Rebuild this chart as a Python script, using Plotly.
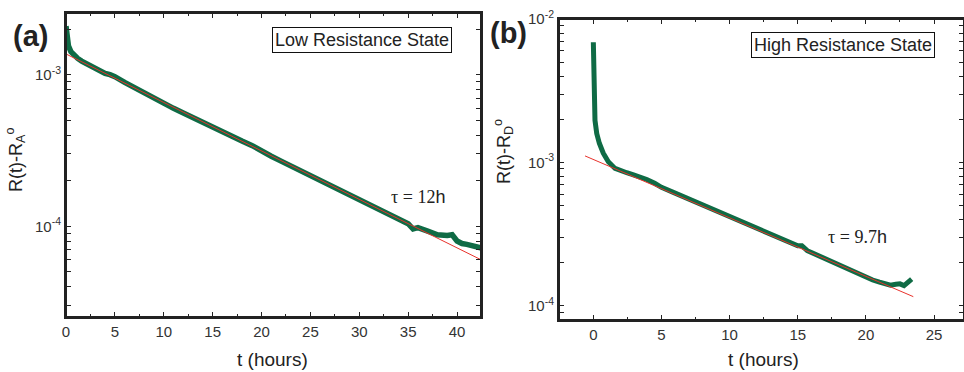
import plotly.graph_objects as go

# ---- Panel (a): Low Resistance State ----
t_a = [0, 0.1, 0.25, 0.5, 0.8, 1.2, 1.6, 2, 2.5, 3, 3.5, 4, 4.5, 5, 6, 7, 8, 9, 10,
       11, 12, 13, 14, 15, 16, 17, 18, 19, 20, 21, 22, 23, 24, 25, 26, 27, 28, 29,
       30, 31, 32, 33, 34, 35, 35.5, 36, 37, 38, 39, 39.5, 40, 40.5, 41, 42, 42.5]
r_a = [2.09e-3, 1.75e-3, 1.55e-3, 1.42e-3, 1.34e-3, 1.28e-3, 1.23e-3, 1.19e-3, 1.13e-3,
       1.09e-3, 1.05e-3, 1.02e-3, 1.0e-3, 9.7e-4, 8.9e-4, 8.2e-4, 7.6e-4, 7.05e-4, 6.45e-4,
       6.0e-4, 5.6e-4, 5.2e-4, 4.85e-4, 4.52e-4, 4.2e-4, 3.92e-4, 3.65e-4, 3.42e-4, 3.12e-4,
       2.9e-4, 2.69e-4, 2.5e-4, 2.33e-4, 2.17e-4, 2.03e-4, 1.89e-4, 1.73e-4, 1.61e-4,
       1.5e-4, 1.4e-4, 1.32e-4, 1.22e-4, 1.13e-4, 1.04e-4, 9.6e-5, 9.8e-5, 9.3e-5, 8.8e-5,
       8.7e-5, 8.8e-5, 8.0e-5, 7.7e-5, 7.6e-5, 7.3e-5, 7.2e-5]
fit_a_t = [0, 42.5]
fit_a_r = [1.37e-3, 6.0e-5]

# ---- Panel (b): High Resistance State ----
t_b = [0, 0.02, 0.04, 0.12, 0.25, 0.44, 0.73, 1.1, 1.59, 2.0, 2.45, 3.0, 3.5, 3.92, 4.5,
       5, 6, 7, 8, 9, 10, 11, 12, 13, 14, 15, 15.3, 15.7, 16, 17, 18, 19, 20, 20.5, 21,
       21.5, 21.8, 22.2, 22.5, 22.8, 23.1, 23.36]
r_b = [6.9e-3, 4.5e-3, 2.9e-3, 1.97e-3, 1.59e-3, 1.36e-3, 1.16e-3, 1.01e-3, 9.08e-4,
       8.7e-4, 8.47e-4, 8.15e-4, 7.9e-4, 7.6e-4, 7.15e-4, 6.7e-4, 6.1e-4, 5.55e-4, 5.05e-4,
       4.57e-4, 4.15e-4, 3.78e-4, 3.45e-4, 3.13e-4, 2.85e-4, 2.62e-4, 2.62e-4, 2.42e-4,
       2.35e-4, 2.13e-4, 1.92e-4, 1.72e-4, 1.57e-4, 1.51e-4, 1.46e-4, 1.42e-4, 1.39e-4,
       1.41e-4, 1.42e-4, 1.38e-4, 1.46e-4, 1.53e-4]
fit_b_t = [-0.61, 23.48]
fit_b_r = [1.11e-3, 1.156e-4]

x_ticks_a = [0, 5, 10, 15, 20, 25, 30, 35, 40]
x_ticks_b = [0, 5, 10, 15, 20, 25]
y_decades_a = [-5, -4, -3]
y_labeled_a = [-4, -3]
y_decades_b = [-5, -4, -3, -2]
y_labeled_b = [-4, -3, -2]

W, H = 964, 372
def px(x):
    return x / W
def py(y):
    return 1 - y / H

GREEN = "#0f6b45"
RED = "#e8322c"
INK = "#222222"
FONT = "Liberation Sans, Arial, sans-serif"

fig = go.Figure()
fig.add_trace(go.Scatter(x=t_a, y=r_a, mode="lines", line=dict(color=GREEN, width=5.5),
                         xaxis="x", yaxis="y", showlegend=False))
fig.add_trace(go.Scatter(x=fit_a_t, y=fit_a_r, mode="lines", line=dict(color=RED, width=1),
                         xaxis="x", yaxis="y", showlegend=False))
fig.add_trace(go.Scatter(x=t_b, y=r_b, mode="lines", line=dict(color=GREEN, width=5),
                         xaxis="x2", yaxis="y2", showlegend=False))
fig.add_trace(go.Scatter(x=fit_b_t, y=fit_b_r, mode="lines", line=dict(color=RED, width=1),
                         xaxis="x2", yaxis="y2", showlegend=False))

def log_ticks(decades, labeled):
    vals, text = [], []
    for d in decades:
        for m in range(1, 10):
            vals.append(m * 10.0 ** d)
            text.append("10<sup>%d</sup>" % d if (m == 1 and d in labeled) else " ")
    return vals, text

yv_a, yt_a = log_ticks(y_decades_a, y_labeled_a)
yv_b, yt_b = log_ticks(y_decades_b, y_labeled_b)

common = dict(showgrid=False, zeroline=False, showline=True, linecolor=INK, linewidth=2,
              mirror="ticks", ticks="inside", ticklen=5, tickwidth=1.3, tickcolor=INK,
              automargin=False,
              tickfont=dict(family=FONT, size=15, color="#333"))
xminor = dict(dtick=2.5, tick0=0, ticks="inside", ticklen=3, tickwidth=1.3, tickcolor=INK)

fig.update_layout(
    width=W, height=H, margin=dict(l=0, r=0, t=0, b=0, autoexpand=False),
    paper_bgcolor="white", plot_bgcolor="white",
    xaxis=dict(domain=[px(66), px(481)], range=[0, 42.45], anchor="y",
               tickmode="array", tickvals=x_ticks_a, minor=xminor, **common),
    yaxis=dict(domain=[py(317), py(13)], type="log", range=[-4.598, -2.593], anchor="x",
               tickmode="array", tickvals=yv_a, ticktext=yt_a, **common),
    xaxis2=dict(domain=[px(559), 1.0], range=[-2.52, 27.2], anchor="y2",
                tickmode="array", tickvals=x_ticks_b, minor=xminor, **common),
    yaxis2=dict(domain=[py(320), py(19)], type="log", range=[-4.1, -1.999], anchor="x2",
                tickmode="array", tickvals=yv_b, ticktext=yt_b, **common),
)

# frames
for xr, yr in (("x domain", "y domain"), ("x2 domain", "y2 domain")):
    fig.add_shape(type="rect", xref=xr, yref=yr, x0=0, x1=1, y0=0, y1=1,
                  line=dict(color=INK, width=2), fillcolor="rgba(0,0,0,0)", layer="above")

ann = []
def add(text, x, y, size, angle=0, family=FONT, border=False, **kw):
    d = dict(text=text, x=px(x), y=py(y), xref="paper", yref="paper", showarrow=False,
             xanchor="center", yanchor="middle", textangle=angle,
             font=dict(family=family, size=size, color=INK))
    if border:
        d.update(bordercolor="#111", borderwidth=1, borderpad=2, bgcolor="white")
    d.update(kw)
    ann.append(d)

add("<b>(a)</b>", 31, 36, 29)
add("<b>(b)</b>", 508, 33, 29)
add("Low Resistance State", 362, 40, 18, border=True)
add("High Resistance State", 843, 45, 18, border=True)
add("τ = 12<span style='font-family:Liberation Sans'>h</span>", 418, 197, 18,
    family="Liberation Serif, Times New Roman, serif")
add("τ = 9.7<span style='font-family:Liberation Sans'>h</span>", 857, 237, 18,
    family="Liberation Serif, Times New Roman, serif")
add("t (hours)", 272, 359, 19)
add("t (hours)", 763, 359, 19)
add("R(t)-R<sub>A</sub><sup>o</sup>", 15, 160, 18, angle=-90)
add("R(t)-R<sub>D</sub><sup>o</sup>", 503, 152, 18, angle=-90)

fig.update_layout(annotations=ann)
fig.write_html("out.html", config={"displayModeBar": False},
               post_script="document.body.style.margin='0px';"
                           "document.body.style.overflow='hidden';")
